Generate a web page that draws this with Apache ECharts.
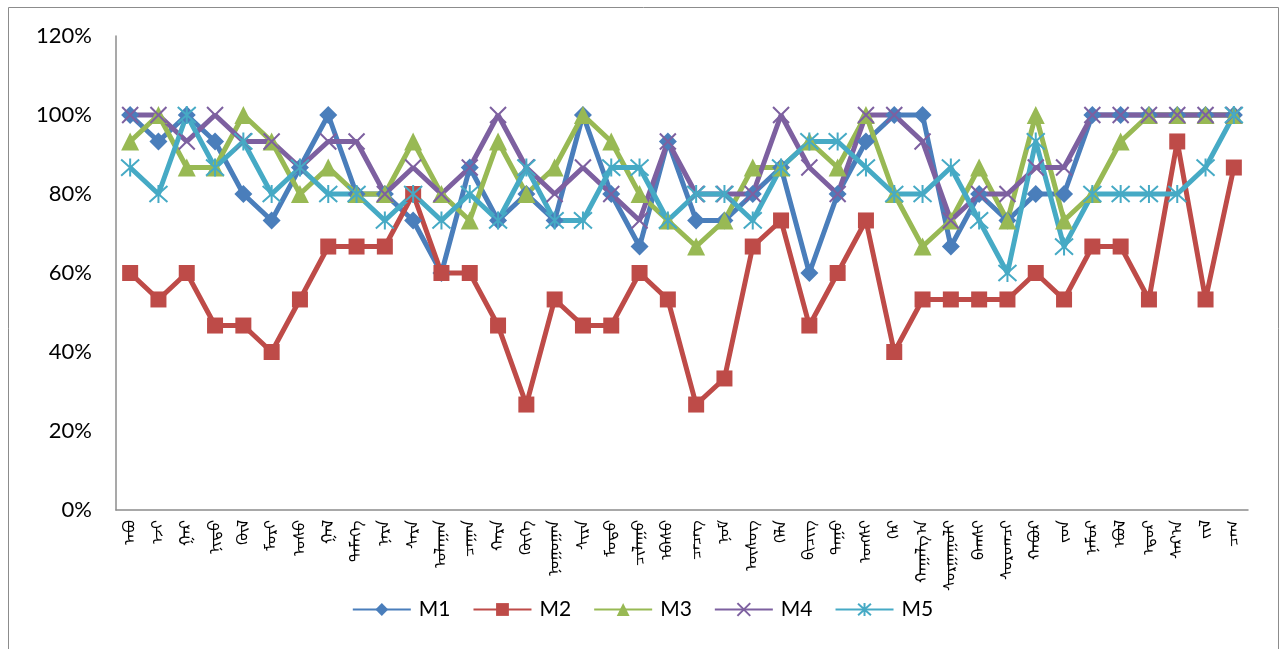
<!DOCTYPE html>
<html>
<head>
<meta charset="utf-8">
<title>M1–M5</title>
<script src="https://cdn.jsdelivr.net/npm/echarts@6/dist/echarts.min.js"></script>
<style>
  html, body { margin: 0; padding: 0; background: #ffffff; }
  #chart { width: 1285px; height: 649px; }
</style>
</head>
<body>
<div id="chart"></div>
<script>
// Category labels (Mongolian script, shown rotated along the x axis)
const categories = [
  'ᠠᠪᠤ', 'ᠡᠵᠢ', 'ᠭᠠᠷ', 'ᠨᠢᠳᠦ', 'ᠬᠦᠯ', 'ᠮᠣᠷᠢ', 'ᠤᠰᠤ', 'ᠭᠠᠯ', 'ᠲᠡᠮᠡᠭᠡ', 'ᠨᠠᠷᠠ',
  'ᠰᠠᠷᠠ', 'ᠤᠯᠠᠭᠠᠨ', 'ᠴᠠᠭᠠᠨ', 'ᠬᠠᠷᠠ', 'ᠬᠥᠬᠡ', 'ᠨᠣᠭᠤᠭᠠᠨ', 'ᠰᠢᠷᠠ', 'ᠮᠣᠳᠤ', 'ᠴᠢᠯᠠᠭᠤ', 'ᠡᠪᠡᠰᠦ',
  'ᠴᠡᠴᠡᠭ', 'ᠨᠣᠮ', 'ᠦᠰᠦᠭ', 'ᠬᠡᠯᠡ', 'ᠪᠢᠴᠢᠭ', 'ᠳᠠᠭᠤ', 'ᠤᠩᠰᠢ', 'ᠭᠡᠷ', 'ᠬᠠᠭᠠᠯᠭ᠎ᠠ', 'ᠰᠤᠷᠭᠠᠭᠤᠯᠢ',
  'ᠪᠠᠭᠰᠢ', 'ᠰᠤᠷᠤᠭᠴᠢ', 'ᠬᠠᠪᠤᠷ', 'ᠵᠤᠨ', 'ᠨᠠᠮᠤᠷ', 'ᠡᠪᠦᠯ', 'ᠡᠳᠦᠷ', 'ᠰᠠᠷ᠎ᠠ', 'ᠵᠢᠯ', 'ᠴᠠᠭ'
];

// Share of correct answers per item, in percent
const m1 = [100, 93.3, 100, 93.3, 80, 73.3, 86.7, 100, 80, 80,
            73.3, 60, 86.7, 73.3, 80, 73.3, 100, 80, 66.7, 93.3,
            73.3, 73.3, 80, 86.7, 60, 80, 93.3, 100, 100, 66.7,
            80, 73.3, 80, 80, 100, 100, 100, 100, 100, 100];
const m2 = [60, 53.3, 60, 46.7, 46.7, 40, 53.3, 66.7, 66.7, 66.7,
            80, 60, 60, 46.7, 26.7, 53.3, 46.7, 46.7, 60, 53.3,
            26.7, 33.3, 66.7, 73.3, 46.7, 60, 73.3, 40, 53.3, 53.3,
            53.3, 53.3, 60, 53.3, 66.7, 66.7, 53.3, 93.3, 53.3, 86.7];
const m3 = [93.3, 100, 86.7, 86.7, 100, 93.3, 80, 86.7, 80, 80,
            93.3, 80, 73.3, 93.3, 80, 86.7, 100, 93.3, 80, 73.3,
            66.7, 73.3, 86.7, 86.7, 93.3, 86.7, 100, 80, 66.7, 73.3,
            86.7, 73.3, 100, 73.3, 80, 93.3, 100, 100, 100, 100];
const m4 = [100, 100, 93.3, 100, 93.3, 93.3, 86.7, 93.3, 93.3, 80,
            86.7, 80, 86.7, 100, 86.7, 80, 86.7, 80, 73.3, 93.3,
            80, 80, 80, 100, 86.7, 80, 100, 100, 93.3, 73.3,
            80, 80, 86.7, 86.7, 100, 100, 100, 100, 100, 100];
const m5 = [86.7, 80, 100, 86.7, 93.3, 80, 86.7, 80, 80, 73.3,
            80, 73.3, 80, 73.3, 86.7, 73.3, 73.3, 86.7, 86.7, 73.3,
            80, 80, 73.3, 86.7, 93.3, 93.3, 86.7, 80, 80, 86.7,
            73.3, 60, 93.3, 66.7, 80, 80, 80, 80, 86.7, 100];

const seriesNames = ['M1', 'M2', 'M3', 'M4', 'M5'];
const yTicks = [0, 20, 40, 60, 80, 100, 120];

const colors = ['#4A7EBB', '#BE4B48', '#98B954', '#7D60A0', '#46AAC5'];
const crossPath = 'path://M0,0 L20,20 M20,0 L0,20';
const starPath = 'path://M1,1 L19,19 M19,1 L1,19 M10,0 L10,20';

const markers = [
  { symbol: 'diamond', size: 18, border: 0 },
  { symbol: 'rect', size: 16, border: 0 },
  { symbol: 'triangle', size: 18, border: 0 },
  { symbol: crossPath, size: 16, border: 2 },
  { symbol: starPath, size: 18, border: 2 }
];

const chart = echarts.init(document.getElementById('chart'), null, { renderer: 'canvas' });

const seriesData = [m1, m2, m3, m4, m5];

chart.setOption({
  animation: false,
  backgroundColor: '#ffffff',
  color: colors,
  graphic: [{
    type: 'rect',
    shape: { x: 8.5, y: 7.5, width: 1270, height: 700 },
    style: { fill: 'none', stroke: '#8c8c8c', lineWidth: 1 },
    silent: true
  }],
  grid: { left: 116, right: 37, top: 36, bottom: 139, containLabel: false },
  legend: {
    bottom: 24,
    left: 'center',
    itemWidth: 58,
    itemHeight: 16,
    itemGap: 22,
    data: seriesNames,
    textStyle: { fontFamily: 'Lato', fontSize: 21, color: '#000000', padding: [0, 0, 0, 3] }
  },
  xAxis: {
    type: 'category',
    data: categories,
    boundaryGap: true,
    axisLine: { lineStyle: { color: '#8c8c8c', width: 1.5 } },
    axisTick: { show: false },
    axisLabel: {
      interval: 0,
      rotate: 90,
      margin: 10,
      fontSize: 16,
      color: '#000000',
      fontFamily: 'Noto Sans, DejaVu Sans'
    }
  },
  yAxis: {
    type: 'value',
    min: yTicks[0],
    max: yTicks[yTicks.length - 1],
    interval: 20,
    axisLine: { show: true, lineStyle: { color: '#8c8c8c', width: 1.5 } },
    axisTick: { show: false },
    splitLine: { show: false },
    axisLabel: {
      formatter: v => v + '%',
      margin: 24,
      fontSize: 22,
      fontFamily: 'Lato',
      color: '#000000'
    }
  },
  series: seriesNames.map((name, i) => ({
    name: name,
    type: 'line',
    data: seriesData[i],
    symbol: markers[i].symbol,
    symbolSize: markers[i].size,
    showAllSymbol: true,
    lineStyle: { width: 5, color: colors[i] },
    itemStyle: {
      color: colors[i],
      borderColor: colors[i],
      borderWidth: markers[i].border
    },
    emphasis: { disabled: true }
  }))
});
</script>
</body>
</html>
